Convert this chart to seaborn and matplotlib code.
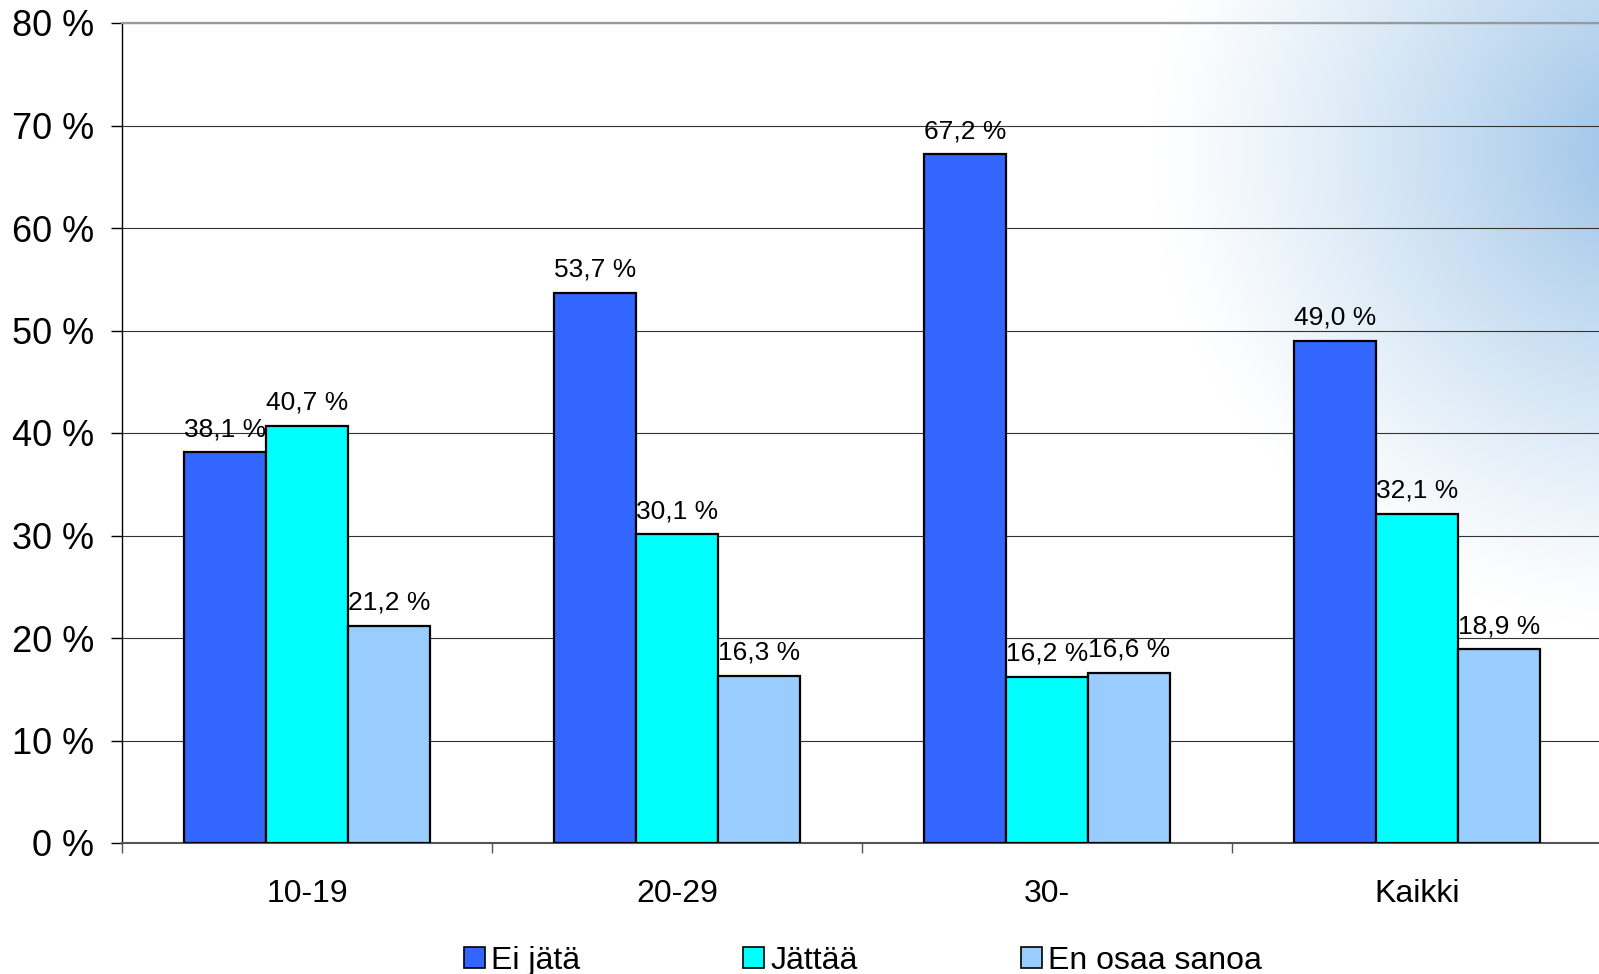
import numpy as np
import pandas as pd
import matplotlib
matplotlib.use("Agg")
import matplotlib.pyplot as plt
from matplotlib.ticker import FixedLocator
import seaborn as sns

# ---- data ----
groups = ["10-19", "20-29", "30-", "Kaikki"]
series = ["Ei jätä", "Jättää", "En osaa sanoa"]
ei_jata = [38.1, 53.7, 67.2, 49.0]
jattaa = [40.7, 30.1, 16.2, 32.1]
en_osaa = [21.2, 16.3, 16.6, 18.9]
colors = ["#3366FF", "#00FFFF", "#99CCFF"]
yticks = [0, 10, 20, 30, 40, 50, 60, 70, 80]

values = {series[0]: ei_jata, series[1]: jattaa, series[2]: en_osaa}
df = pd.DataFrame([
    {"group": g, "series": s, "value": values[s][i]}
    for s in series for i, g in enumerate(groups)
])

sns.set_style("white")
plt.rcParams["font.family"] = ["Liberation Sans", "DejaVu Sans"]
plt.rcParams["text.color"] = "black"
plt.rcParams["xtick.color"] = "black"
plt.rcParams["ytick.color"] = "black"

W, H = 1599, 974
fig = plt.figure(figsize=(W / 100, H / 100), dpi=100)
fig.patch.set_facecolor("white")

# ---- background gradient (top-right corner) ----
bg = fig.add_axes([0, 0, 1, 1], zorder=-5)
yy, xx = np.mgrid[0:H, 0:W]
cx, cy, rx, ry = 1660.0, 150.0, 510.0, 480.0
d = np.sqrt(((xx - cx) / rx) ** 2 + ((yy - cy) / ry) ** 2)
inten = np.clip(1 - d, 0, 1) ** 1.2
base = np.array([1.0, 1.0, 1.0])
blue = np.array([150, 192, 230]) / 255.0
img = base[None, None, :] * (1 - inten[..., None]) + blue[None, None, :] * inten[..., None]
bg.imshow(img, extent=[0, W, H, 0], aspect="auto", interpolation="bilinear")
bg.set_axis_off()

# ---- main axes ----
left = 122 / W
right = 1602 / W
bottom = 1 - 843 / H
top = 1 - 23 / H
ax = fig.add_axes([left, bottom, right - left, top - bottom])
ax.set_facecolor("none")

sns.barplot(data=df, x="group", y="value", hue="series", hue_order=series,
            order=groups, palette=colors, width=0.667, saturation=1,
            edgecolor="black", linewidth=1.6, ax=ax, zorder=3)

for cont in ax.containers:
    for p in cont.patches:
        p.set_zorder(3)

# value labels
for cont, s in zip(ax.containers, series):
    labs = [f"{v:.1f} %".replace(".", ",") for v in values[s]]
    texts = ax.bar_label(cont, labels=labs, padding=8, fontsize=19, color="black")
    for t in texts:
        t.set_zorder(2.5)

ax.set_xlim(-0.5, 3.5)
ax.set_ylim(0, 80)
ax.set_yticks(yticks)
ax.set_yticklabels([f"{v} %" for v in yticks], fontsize=26, color="black")
ax.set_xlabel("")
ax.set_ylabel("")
ax.tick_params(axis="y", length=8, width=1, pad=12, color="black", left=True,
               labelcolor="black")
ax.tick_params(axis="x", which="major", length=0, pad=26, labelsize=23, labelcolor="black")
ax.xaxis.set_minor_locator(FixedLocator([-0.5, 0.5, 1.5, 2.5, 3.5]))
ax.tick_params(axis="x", which="minor", length=7, width=1, color="#555555", bottom=True)

ax.yaxis.grid(True, color="#333333", linewidth=0.8, zorder=1)
ax.set_axisbelow(True)
ax.spines["right"].set_visible(False)
ax.spines["top"].set_color("#999999")
ax.spines["top"].set_linewidth(1.6)
ax.spines["left"].set_color("black")
ax.spines["left"].set_linewidth(1.0)
ax.spines["bottom"].set_color("#555555")
ax.spines["bottom"].set_linewidth(1.5)

# legend
handles, labels = ax.get_legend_handles_labels()
if ax.get_legend() is not None:
    ax.get_legend().remove()
for h in handles:
    h.set_edgecolor("black")
    h.set_linewidth(1.2)
fig.legend(handles, labels, loc="center", bbox_to_anchor=(863 / W, 1 - 961 / H),
           ncol=3, frameon=False, fontsize=23, handlelength=0.65, handleheight=0.65,
           handletextpad=0.2, columnspacing=5.1, borderpad=0.0)

fig.savefig("out.png", dpi=100, facecolor="white")
